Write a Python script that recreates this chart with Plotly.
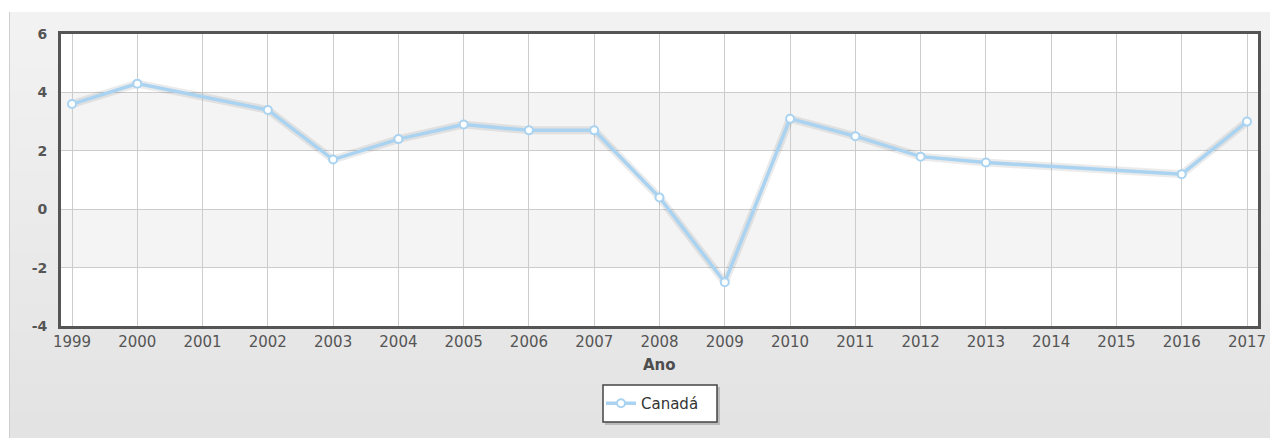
import plotly.graph_objects as go

years = list(range(1999, 2018))
canada = [3.6, 4.3, None, 3.4, 1.7, 2.4, 2.9, 2.7, 2.7, 0.4, -2.5, 3.1, 2.5, 1.8, 1.6, None, None, 1.2, 3.0]
series_name = "Canadá"
x_title = "Ano"
y_ticks = [-4, -2, 0, 2, 4, 6]
y_ticktext = ["-4", "-2", "0", "2", "4", "6"]

W, H = 1270, 438
L, R, T, B = 61, 12, 34, 112
pw, ph = W - L - R, H - T - B


def px_x(p):
    return (p - L) / pw


def px_y(p):
    return (H - B - p) / ph


fig = go.Figure()

shapes = []
# outer panel gradient background
n = 16
top, bot = 12, H
c0, c1 = 0xF2, 0xE3
for i in range(n):
    y0p = top + (bot - top) * i / n
    y1p = top + (bot - top) * (i + 1) / n
    c = round(c0 + (c1 - c0) * (i + 0.5) / n)
    col = f"#{c:02x}{c:02x}{c:02x}"
    shapes.append(dict(type="rect", xref="paper", yref="paper", layer="below",
                       x0=px_x(9), x1=px_x(W + 2), y0=px_y(y1p + 0.5), y1=px_y(y0p),
                       fillcolor=col, line=dict(width=0)))
# left panel border line
shapes.append(dict(type="line", xref="paper", yref="paper", layer="below",
                   x0=px_x(9.5), x1=px_x(9.5), y0=px_y(H), y1=px_y(12),
                   line=dict(color="#cfcfcf", width=1)))
# plot area white
shapes.append(dict(type="rect", xref="paper", yref="paper", layer="below",
                   x0=0, x1=1, y0=0, y1=1, fillcolor="white", line=dict(width=0)))
# alternating bands
for lo, hi in [(2, 4), (-2, 0)]:
    shapes.append(dict(type="rect", xref="paper", yref="y", layer="below",
                       x0=0, x1=1, y0=lo, y1=hi, fillcolor="#f4f4f4", line=dict(width=0)))
# legend box shadow + box
shapes.append(dict(type="rect", xref="paper", yref="paper", layer="above",
                   x0=px_x(605), x1=px_x(720), y0=px_y(425), y1=px_y(387),
                   fillcolor="rgba(0,0,0,0.18)", line=dict(width=0)))
shapes.append(dict(type="rect", xref="paper", yref="paper", layer="above",
                   x0=px_x(603), x1=px_x(717), y0=px_y(422), y1=px_y(385),
                   fillcolor="white", line=dict(color="#444444", width=1.5)))

# line shadow
fig.add_trace(go.Scatter(x=years, y=canada, mode="lines", connectgaps=True,
                         line=dict(color="rgba(0,0,0,0.08)", width=8),
                         hoverinfo="skip", showlegend=False))
fig.add_trace(go.Scatter(x=years, y=canada, mode="lines+markers", name=series_name,
                         connectgaps=True,
                         line=dict(color="#a9d3f1", width=3.5),
                         marker=dict(symbol="circle", size=8, color="white",
                                     line=dict(color="#a9d3f1", width=2))))

fig.update_layout(
    width=W, height=H,
    margin=dict(l=L, r=R, t=T, b=B, pad=0, autoexpand=False),
    paper_bgcolor="white",
    plot_bgcolor="rgba(0,0,0,0)",
    font=dict(family="DejaVu Sans", color="#4d4d4d"),
    shapes=shapes,
    showlegend=True,
    legend=dict(x=px_x(601), xanchor="left", y=px_y(403.5), yanchor="middle",
                orientation="h", bgcolor="rgba(0,0,0,0)", borderwidth=0,
                font=dict(family="DejaVu Sans", size=15, color="#333333")),
    annotations=[dict(text=f"<b>{x_title}</b>", xref="paper", yref="paper",
                      x=px_x(659), y=px_y(364.5), xanchor="center", yanchor="middle",
                      showarrow=False, font=dict(family="DejaVu Sans", size=15, color="#4d4d4d"))],
)

fig.update_xaxes(range=[1998.8315, 2017.1685], tickmode="array", tickvals=years,
                 ticktext=[str(y) for y in years], showgrid=True, gridcolor="#cccccc",
                 gridwidth=1, showline=True, linecolor="#555555", linewidth=3, mirror=True,
                 zeroline=False, ticks="", automargin=False,
                 tickfont=dict(size=15, color="#555555"))
fig.update_yaxes(range=[-4, 6], tickmode="array", tickvals=y_ticks, ticktext=y_ticktext,
                 showgrid=True, gridcolor="#cccccc", gridwidth=1,
                 showline=True, linecolor="#555555", linewidth=3, mirror=True,
                 zeroline=False, ticks="", ticklabelstandoff=8, automargin=False,
                 tickfont=dict(size=14, color="#555555", weight="bold"))

fig.write_html("out.html")
